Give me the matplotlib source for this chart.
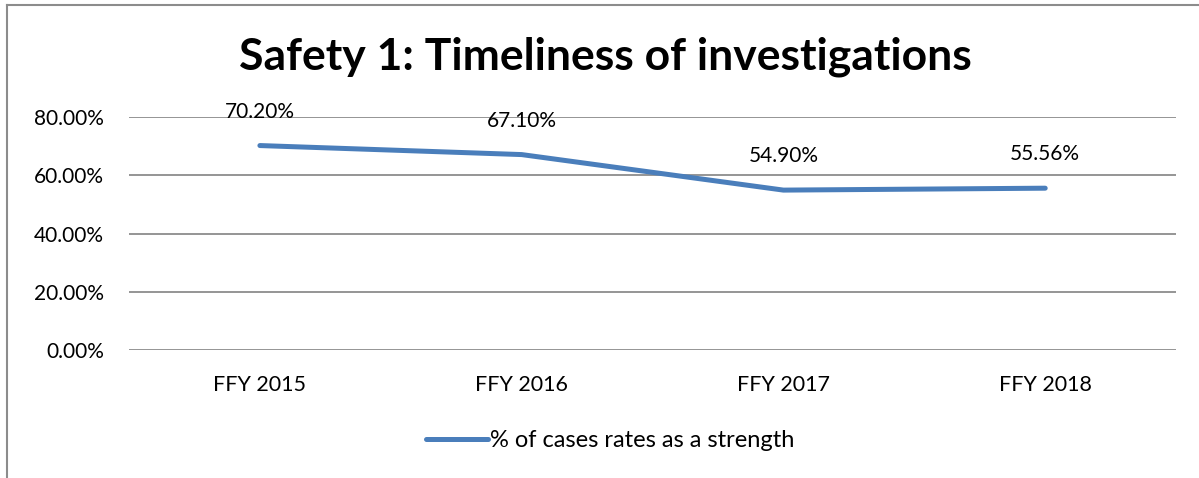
import matplotlib.pyplot as plt
from matplotlib.lines import Line2D

plt.rcParams['font.family'] = ['Lato', 'DejaVu Sans']

years = ['FFY 2015', 'FFY 2016', 'FFY 2017', 'FFY 2018']
rates = [70.20, 67.10, 54.90, 55.56]
yticks = [0, 20, 40, 60, 80]

fig = plt.figure(figsize=(11.99, 4.78), dpi=100)
ax = fig.add_axes([0.1076, 0.2678, 0.8733, 0.4874])

x = list(range(len(years)))
ax.plot(x, rates, color='#4A7EBB', linewidth=3.6, solid_capstyle='round',
        label='% of cases rates as a strength', zorder=3)
for xi, v in zip(x, rates):
    ax.annotate(f'{v:.2f}%', (xi, v), xytext=(0, 24.5), textcoords='offset points',
                ha='center', va='center', fontsize=15, color='black')

ax.set_xlim(-0.5, len(years) - 0.5)
ax.set_ylim(0, 80)
ax.set_yticks(yticks)
ax.set_yticklabels([f'{t:.2f}%' for t in yticks], fontsize=15)
ax.set_xticks(x)
ax.set_xticklabels(years, fontsize=15.5)
ax.tick_params(axis='y', length=0, pad=18)
ax.tick_params(axis='x', length=0, pad=18)
ax.grid(axis='y', color='#8c8c8c', linewidth=1.3)
ax.set_axisbelow(True)
for s in ax.spines.values():
    s.set_visible(False)

fig.text(0.505, 0.881, 'Safety 1: Timeliness of investigations', ha='center', va='center',
         fontsize=32, fontweight='bold')

handle = Line2D([], [], color='#4A7EBB', linewidth=3.6, solid_capstyle='round')
fig.legend([handle], ['% of cases rates as a strength'], loc='center',
           bbox_to_anchor=(0.509, 0.078), frameon=False, fontsize=17,
           handlelength=2.6, handletextpad=0.1)

# chart border (left and top only visible)
fig.add_artist(Line2D([0.006, 0.006], [0, 0.99], color='#8c8c8c', linewidth=1.5))
fig.add_artist(Line2D([0.006, 1.0], [0.99, 0.99], color='#8c8c8c', linewidth=1.5))

fig.savefig('out.png', dpi=100)
